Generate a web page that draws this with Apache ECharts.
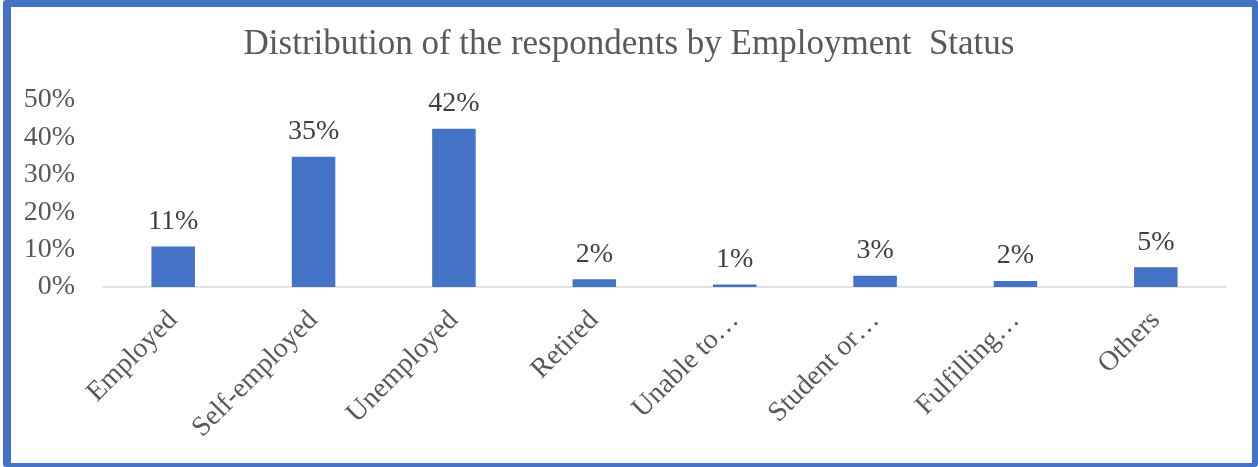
<!DOCTYPE html>
<html>
<head>
<meta charset="utf-8">
<script src="https://cdn.jsdelivr.net/npm/echarts@6/dist/echarts.min.js"></script>
<style>
  html, body { margin: 0; padding: 0; background: #fff; }
  #wrap { position: relative; width: 1258px; height: 467px; overflow: hidden; }
  #chart { position: absolute; left: 0; top: 0; width: 1258px; height: 467px; }
  #frame {
    position: absolute; left: 3px; top: 0; right: 0; bottom: 0;
    border-style: solid; border-color: #4472C4;
    border-width: 7px 6px 4px 8px; border-radius: 3px;
    pointer-events: none;
  }
</style>
</head>
<body>
<div id="wrap">
  <div id="chart"></div>
  <div id="frame"></div>
</div>
<script>
// Employment status categories and share of respondents (%)
const categories = ['Employed', 'Self-employed', 'Unemployed', 'Retired', 'Unable to\u2026', 'Student or\u2026', 'Fulfilling\u2026', 'Others'];
const shares = [10.8, 34.8, 42.3, 2.1, 0.7, 3.0, 1.6, 5.3];
const yTicks = { min: 0, max: 50, interval: 10 };

const serif = "'Liberation Serif', 'Times New Roman', serif";
const chart = echarts.init(document.getElementById('chart'), null, { renderer: 'canvas' });

chart.setOption({
  backgroundColor: '#ffffff',
  animation: false,
  title: {
    text: 'Distribution of the respondents by Employment  Status',
    left: 'center',
    top: 22,
    textStyle: { fontFamily: serif, fontSize: 35, fontWeight: 'normal', color: '#595959' }
  },
  grid: { left: 103, right: 32, top: 100, bottom: 180 },
  xAxis: {
    type: 'category',
    data: categories,
    axisLine: { lineStyle: { color: '#d9d9d9', width: 1.5 } },
    axisTick: { show: false },
    axisLabel: {
      interval: 0,
      rotate: 45,
      margin: 29,
      fontFamily: serif,
      fontSize: 28,
      color: '#595959'
    }
  },
  yAxis: {
    type: 'value',
    min: yTicks.min,
    max: yTicks.max,
    interval: yTicks.interval,
    splitLine: { show: false },
    axisLine: { show: false },
    axisTick: { show: false },
    axisLabel: {
      margin: 28,
      formatter: '{value}%',
      fontFamily: serif,
      fontSize: 28,
      color: '#595959'
    }
  },
  series: [{
    type: 'bar',
    data: shares,
    barWidth: '31%',
    itemStyle: { color: '#4472C4' },
    label: {
      show: true,
      position: 'top',
      distance: 11,
      formatter: (p) => Math.round(p.value) + '%',
      fontFamily: serif,
      fontSize: 28,
      color: '#404040'
    }
  }]
});
</script>
</body>
</html>
